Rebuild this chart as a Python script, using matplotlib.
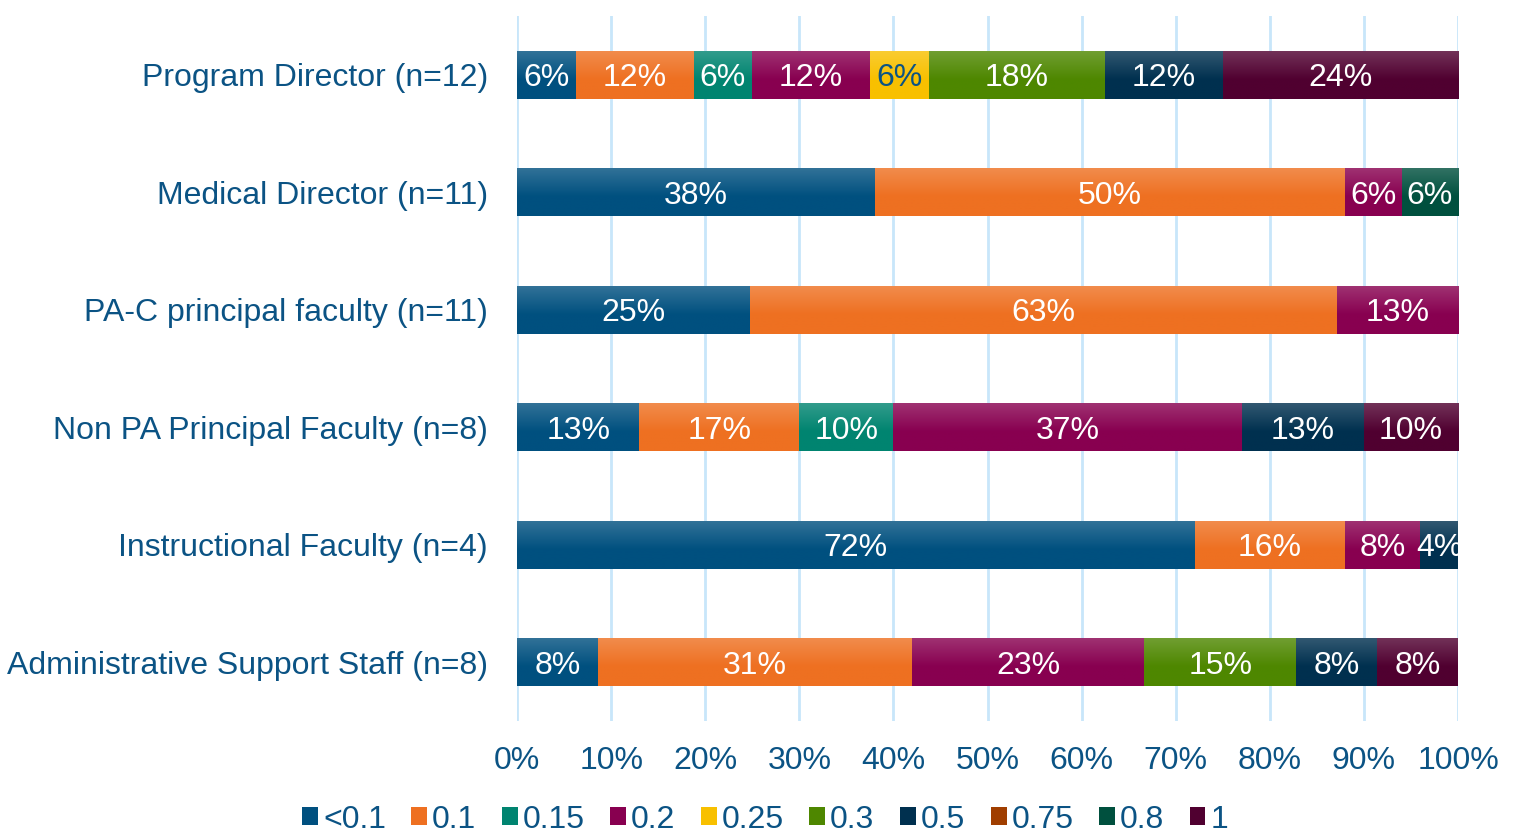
import numpy as np
import matplotlib.pyplot as plt
from matplotlib.colors import to_rgb
from matplotlib.patches import Patch

plt.rcParams['font.family'] = ['Liberation Sans', 'DejaVu Sans']

TEXT = '#0B5384'
GRID = '#C8E6FA'

roles = [
    'Program Director (n=12)',
    'Medical Director (n=11)',
    'PA-C principal faculty (n=11)',
    'Non PA Principal Faculty (n=8)',
    'Instructional Faculty (n=4)',
    'Administrative Support Staff (n=8)',
]
fte_levels = ['<0.1', '0.1', '0.15', '0.2', '0.25', '0.3', '0.5', '0.75', '0.8', '1']
level_colors = ['#00507F', '#EE7021', '#008470', '#880050', '#F8C000',
                '#4E8700', '#00304F', '#A03E00', '#00503E', '#500030']

# percent per role for each FTE level (0 = not present)
pct_lt01 = [6, 38, 25, 13, 72, 8]
pct_01 = [12, 50, 63, 17, 16, 31]
pct_015 = [6, 0, 0, 10, 0, 0]
pct_02 = [12, 6, 13, 37, 8, 23]
pct_025 = [6, 0, 0, 0, 0, 0]
pct_03 = [18, 0, 0, 0, 0, 15]
pct_05 = [12, 0, 0, 13, 4, 8]
pct_075 = [0, 0, 0, 0, 0, 0]
pct_08 = [0, 6, 0, 0, 0, 0]
pct_1 = [24, 0, 0, 10, 0, 8]

series = [pct_lt01, pct_01, pct_015, pct_02, pct_025, pct_03,
          pct_05, pct_075, pct_08, pct_1]
data = np.array(series, dtype=float)
share = data / data.sum(axis=0) * 100  # 100% stacked

fig = plt.figure(figsize=(15.15, 8.33), dpi=100)
ax = fig.add_axes([0.3413, 0.1345, 0.6211, 0.8463])

ypos = np.arange(len(roles))
bar_h = 0.41
FS = 23


def gradient(color, n=64):
    base = np.array(to_rgb(color))
    light = base + (1 - base) * 0.2
    t = np.clip(np.linspace(0, 1, n) / 0.6, 0, 1)[:, None]
    rgb = light * (1 - t) + base * t
    return rgb[:, None, :]


left = np.zeros(len(roles))
for i, lvl in enumerate(fte_levels):
    vals = share[i]
    bars = ax.barh(ypos, vals, left=left, height=bar_h, color=level_colors[i],
                   edgecolor='none', zorder=2)
    for b, v, raw, y in zip(bars, vals, data[i], ypos):
        if raw <= 0:
            continue
        x0 = b.get_x()
        img = ax.imshow(gradient(level_colors[i]), aspect='auto', origin='upper',
                        extent=(x0, x0 + v, y + bar_h / 2, y - bar_h / 2),
                        zorder=2.5, interpolation='bilinear')
        img.set_clip_path(b)
        tc = TEXT if lvl == '0.25' else 'white'
        ax.text(x0 + v / 2, y + 0.03, f'{int(raw)}%', ha='center', va='center',
                color=tc, fontsize=FS, zorder=4)
    left += vals

ax.set_xlim(0, 100)
ax.set_ylim(len(roles) - 0.5, -0.5)
ax.set_xticks(np.arange(0, 101, 10))
ax.set_xticklabels([f'{v}%' for v in range(0, 101, 10)])
ax.set_yticks(ypos)
ax.set_yticklabels(roles)
ax.tick_params(axis='both', length=0, labelsize=FS, labelcolor=TEXT)
ax.tick_params(axis='x', pad=18)
ax.tick_params(axis='y', pad=21)
ax.xaxis.grid(True, color=GRID, linewidth=2, zorder=0)
ax.set_axisbelow(True)
for s in ax.spines.values():
    s.set_visible(False)

handles = [Patch(facecolor=c, edgecolor='none') for c in level_colors]
fig.legend(handles, fte_levels, loc='center', bbox_to_anchor=(0.505, 0.016),
           ncol=len(fte_levels), frameon=False, fontsize=FS, labelcolor=TEXT,
           handlelength=0.5, handleheight=0.5, handletextpad=0.15,
           columnspacing=0.8, borderpad=0)

fig.savefig('out.png', dpi=100)
